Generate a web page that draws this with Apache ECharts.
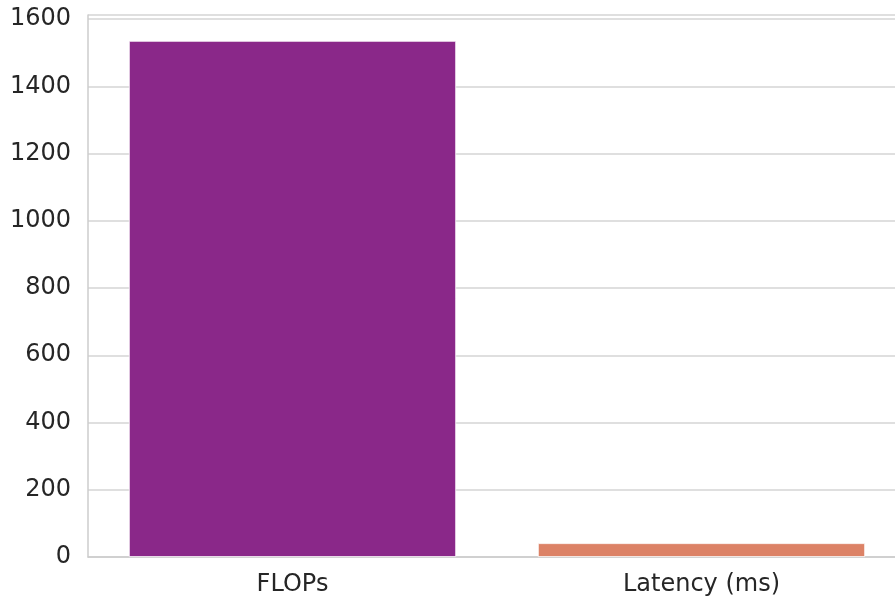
<!DOCTYPE html>
<html>
<head>
<meta charset="utf-8">
<script src="https://cdn.jsdelivr.net/npm/echarts@6/dist/echarts.min.js"></script>
<style>
  html, body { margin: 0; padding: 0; background: #fff; overflow: hidden; width: 895px; height: 600px; }
  #main { width: 910px; height: 600px; }
</style>
</head>
<body>
<div id="main"></div>
<script>
const categories = ["FLOPs", "Latency (ms)"];
const values = [1535, 41];
const barColors = ["#8a2889", "#dc8266"];
const yTicks = [0, 200, 400, 600, 800, 1000, 1200, 1400, 1600];

// the plot runs slightly past the right edge of the picture, so the canvas is wider than the window
const chart = echarts.init(document.getElementById("main"));
const font = "DejaVu Sans";

chart.setOption({
    animation: false,
    grid: { left: 88, right: 4, top: 15, bottom: 43, containLabel: false },
    xAxis: {
        type: "category",
        data: categories,
        axisLine: { show: true, lineStyle: { color: "#cccccc", width: 1.5 } },
        axisTick: { show: false },
        axisLabel: { color: "#262626", fontFamily: font, fontSize: 24, margin: 16 },
        splitLine: { show: false },
    },
    yAxis: {
        type: "value",
        min: 0,
        max: 1612,
        interval: 200,
        axisLine: { show: true, lineStyle: { color: "#cccccc", width: 1.5 } },
        axisTick: { show: false },
        axisLabel: {
            color: "#262626",
            fontFamily: font,
            fontSize: 24,
            margin: 17,
            formatter: (v) => (yTicks.includes(v) ? String(v) : ""),
        },
        splitLine: { show: true, lineStyle: { color: "#d4d4d4", width: 1.5 } },
    },
    series: [{
        type: "bar",
        barCategoryGap: "20%",
        data: values.map((v, i) => ({
            value: v,
            itemStyle: { color: barColors[i], borderColor: "#ffffff", borderWidth: 0.8 },
        })),
    }],
});
</script>
</body>
</html>
